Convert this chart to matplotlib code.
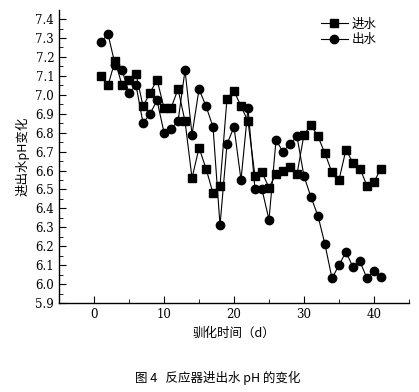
import matplotlib
matplotlib.use("Agg")
import matplotlib.pyplot as plt
from matplotlib.ticker import MultipleLocator

plt.rcParams['font.family'] = ['Noto Sans CJK SC', 'DejaVu Sans']

days = list(range(1, 42))
influent = [7.10, 7.05, 7.18, 7.05, 7.08, 7.11, 6.94, 7.01, 7.08, 6.93,
            6.93, 7.03, 6.86, 6.56, 6.72, 6.61, 6.48, 6.52, 6.98, 7.02,
            6.94, 6.86, 6.57, 6.59, 6.51, 6.58, 6.60, 6.62, 6.58, 6.79,
            6.84, 6.78, 6.69, 6.59, 6.55, 6.71, 6.64, 6.61, 6.52, 6.54, 6.61]
effluent = [7.28, 7.32, 7.16, 7.13, 7.01, 7.05, 6.85, 6.90, 6.97, 6.80,
            6.82, 6.86, 7.13, 6.79, 7.03, 6.94, 6.83, 6.31, 6.74, 6.83,
            6.55, 6.93, 6.50, 6.50, 6.34, 6.76, 6.70, 6.74, 6.78, 6.57,
            6.46, 6.36, 6.21, 6.03, 6.10, 6.17, 6.09, 6.12, 6.03, 6.07, 6.04]
series_names = ['进水', '出水']
xlabel = '驯化时间（d）'
ylabel = '进出水pH变化'
caption = '图 4   反应器进出水 pH 的变化'

fig = plt.figure(figsize=(4.19, 3.92), dpi=100)
ax = fig.add_axes([0.141, 0.227, 0.835, 0.747])

ax.plot(days, influent, color='black', lw=0.8, marker='s', markersize=5.5, label=series_names[0])
ax.plot(days, effluent, color='black', lw=0.8, marker='o', markersize=6, label=series_names[1])

ax.set_xlim(-5, 45)
ax.set_ylim(5.9, 7.447)
ax.xaxis.set_major_locator(MultipleLocator(10))
ax.xaxis.set_minor_locator(MultipleLocator(5))
ax.yaxis.set_major_locator(MultipleLocator(0.1))
ax.yaxis.set_minor_locator(MultipleLocator(0.05))
ax.yaxis.set_major_formatter(plt.FuncFormatter(lambda v, p: f'{v:.1f}'))
ax.tick_params(which='major', direction='in', length=5, width=0.8, labelsize=8.5)
ax.tick_params(which='minor', direction='in', length=3, width=0.6)
for lbl in ax.get_xticklabels() + ax.get_yticklabels():
    lbl.set_family('DejaVu Serif')

ax.spines['top'].set_visible(False)
ax.spines['right'].set_visible(False)
ax.spines['left'].set_linewidth(1.0)
ax.spines['bottom'].set_linewidth(1.0)

ax.set_xlabel(xlabel, fontsize=9, fontweight='medium', labelpad=4)
ax.set_ylabel(ylabel, fontsize=9, fontweight='medium', labelpad=4)

leg = ax.legend(loc='upper right', frameon=False, fontsize=9, handlelength=2.2,
                handletextpad=0.3, labelspacing=0.2, borderaxespad=0.2,
                bbox_to_anchor=(0.93, 1.0))

fig.text(0.52, 0.035, caption, ha='center', va='center', fontsize=9)

fig.savefig('out.png', dpi=100)
